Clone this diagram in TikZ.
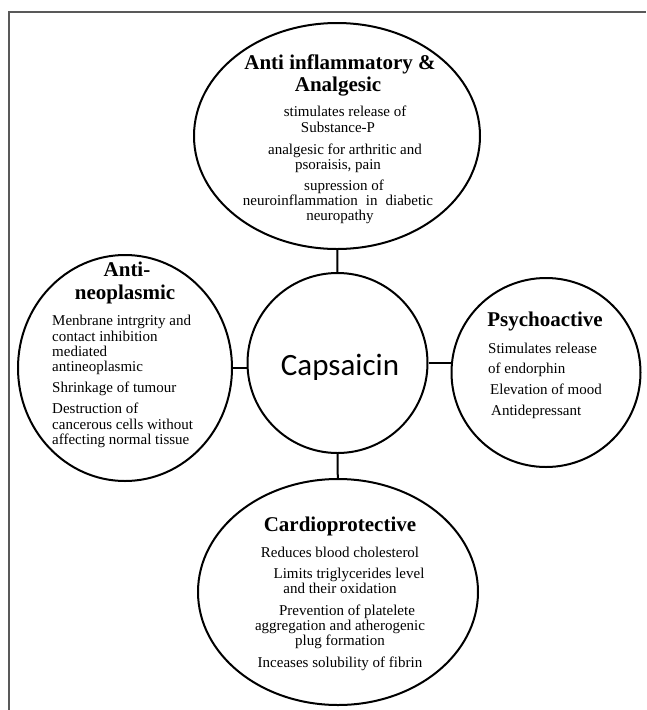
\documentclass[tikz,border=0pt]{standalone}
\usepackage{fontspec}
\setmainfont{Liberation Serif}
\newfontfamily\capsfont{Carlito}
\usetikzlibrary{shapes.geometric}
\begin{document}
\begin{tikzpicture}[x=1pt,y=-1pt,
  bub/.style={draw, ellipse, line width=2pt, inner sep=0pt},
  link/.style={draw, line width=2pt},
  frameline/.style={draw=black!65, line width=2pt},
  txt/.style={anchor=base, inner sep=0pt, font=\fontsize{15}{15}\selectfont},
  lft/.style={txt, anchor=base west},
  ttl/.style={anchor=base, inner sep=0pt, font=\bfseries\fontsize{21}{22}\selectfont}]
\useasboundingbox (0,0) rectangle (646,710);
\fill[white] (0,0) rectangle (646,710);
% frame
\coordinate (fl) at (8.5,710);
\coordinate (fc) at (8.5,11.5);
\coordinate (fr) at (646,11.5);
\draw[frameline] (fl) -- (fc) -- (fr);
% bubbles
\node[bub, minimum width=286, minimum height=226] (top) at (337,136) {};
\node[bub, minimum width=214, minimum height=226] (left) at (125,368) {};
\node[bub, minimum width=189, minimum height=189] (right) at (546,372.5) {};
\node[bub, minimum width=280, minimum height=226] (bot) at (338,592) {};
\node[bub, minimum width=180, minimum height=180] (cap) at (337.5,363) {};
% connectors
\draw[link] (top) -- (cap);
\draw[link] (cap) -- (bot);
\draw[link] (left.east) -- (left.east -| cap.west);
\draw[link] (cap.east) -- (cap.east -| right.west);
% centre
\node[anchor=base, inner sep=0pt, font=\capsfont\fontsize{31}{31}\selectfont] (capt) at (340,375) {Capsaicin};
% top bubble text
\node[ttl] (a1) at (340,69) {Anti inflammatory \&};
\node[ttl] (a2) at (338,91) {Analgesic};
\node[txt] (a3) at (345,116) {stimulates release of};
\node[txt] (a4) at (338,132) {Substance-P};
\node[txt] (a5) at (345,154) {analgesic for arthritic and};
\node[txt] (a6) at (338,169) {psoraisis, pain};
\node[txt] (a7) at (344,190) {supression of};
\node[txt] (a8) at (338,205) {neuroinflammation\hspace{8pt}in\hspace{8pt}diabetic};
\node[txt] (a9) at (340,220) {neuropathy};
% left bubble text
\node[ttl] (b1) at (127,276) {Anti-};
\node[ttl] (b2) at (125,299) {neoplasmic};
\node[lft] (b3) at (52,325) {Menbrane intrgrity and};
\node[lft] (b4) at (52,341) {contact inhibition};
\node[lft] (b5) at (52,356) {mediated};
\node[lft] (b6) at (52,371) {antineoplasmic};
\node[lft] (b7) at (52,392) {Shrinkage of tumour};
\node[lft] (b8) at (52,413) {Destruction of};
\node[lft] (b9) at (52,429) {cancerous cells without};
\node[lft] (b10) at (52,444) {affecting normal tissue};
% right bubble text
\node[ttl] (c1) at (545,326) {Psychoactive};
\node[lft] (c2) at (488,353) {Stimulates release};
\node[lft] (c3) at (488,373) {of endorphin};
\node[lft] (c4) at (490,394) {Elevation of mood};
\node[lft] (c5) at (491,415) {Antidepressant};
% bottom bubble text
\node[ttl] (d1) at (340,531) {Cardioprotective};
\node[txt] (d2) at (340,557) {Reduces blood cholesterol};
\node[txt] (d3) at (349,578) {Limits triglycerides level};
\node[txt] (d4) at (340,593) {and their oxidation};
\node[txt] (d5) at (347,615) {Prevention of platelete};
\node[txt] (d6) at (340,630) {aggregation and atherogenic};
\node[txt] (d7) at (340,645) {plug formation};
\node[txt] (d8) at (340,667) {Inceases solubility of fibrin};
\end{tikzpicture}
\end{document}
